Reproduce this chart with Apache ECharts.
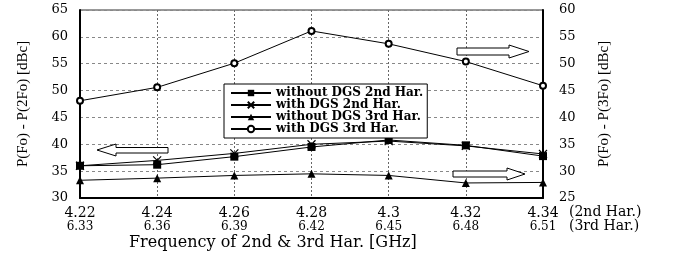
<!DOCTYPE html>
<html>
<head>
<meta charset="utf-8">
<script src="https://cdn.jsdelivr.net/npm/echarts@6/dist/echarts.min.js"></script>
<style>
  html, body { margin: 0; padding: 0; background: #fff; }
  #main { width: 678px; height: 253px; }
</style>
</head>
<body>
<div id="main"></div>
<script>
  // frequencies of the 2nd and 3rd harmonic, GHz
  var freq2nd = ['4.22', '4.24', '4.26', '4.28', '4.3', '4.32', '4.34'];
  var freq3rd = ['6.33', '6.36', '6.39', '6.42', '6.45', '6.48', '6.51'];

  // P(Fo) - P(2Fo), left axis
  var without2nd = [36.0, 36.2, 37.7, 39.5, 40.8, 39.8, 37.8];
  var with2nd = [36.0, 37.0, 38.3, 40.0, 40.6, 39.7, 38.2];
  // P(Fo) - P(3Fo), right axis
  var without3rd = [28.3, 28.7, 29.2, 29.5, 29.2, 27.8, 27.9];
  var with3rd = [43.1, 45.6, 50.1, 56.1, 53.7, 50.4, 45.9];

  var serif = 'DejaVu Serif';
  var crossPath = 'path://M0,0L10,10M10,0L0,10';

  function arrow(points) {
    return {
      type: 'polygon',
      shape: { points: points },
      style: { fill: '#fff', stroke: '#000', lineWidth: 1 },
      z: 10
    };
  }

  var chart = echarts.init(document.getElementById('main'));
  chart.setOption({
    animation: false,
    backgroundColor: '#fff',
    grid: {
      left: 80, right: 135, top: 10, bottom: 55,
      show: true, borderColor: '#333', borderWidth: 1
    },
    title: {
      text: 'Frequency of 2nd & 3rd Har. [GHz]',
      left: 124, top: 230,
      textStyle: { fontFamily: serif, fontSize: 16, fontWeight: 'normal', color: '#000' }
    },
    legend: {
      orient: 'vertical',
      left: 224, top: 84,
      padding: [3, 4, 3, 6],
      itemGap: 0,
      itemWidth: 40,
      itemHeight: 8,
      backgroundColor: '#fff',
      borderColor: '#000',
      borderWidth: 1,
      textStyle: { fontFamily: serif, fontSize: 12, fontWeight: 'bold', color: '#000', lineHeight: 12 },
      data: ['without DGS 2nd Har.', 'with DGS 2nd Har.', 'without DGS 3rd Har.', 'with DGS 3rd Har.']
    },
    xAxis: {
      type: 'category',
      boundaryGap: false,
      data: freq2nd,
      axisLine: { lineStyle: { color: '#000', width: 2 } },
      axisTick: { show: false },
      axisLabel: {
        margin: 8,
        formatter: function (v, i) { return '{a|' + v + '}\n{b|' + freq3rd[i] + '}'; },
        rich: {
          a: { fontFamily: serif, fontSize: 14, color: '#000', lineHeight: 14 },
          b: { fontFamily: serif, fontSize: 12, color: '#000', lineHeight: 14 }
        }
      },
      splitLine: { show: true, lineStyle: { color: '#666', type: [2, 2], width: 1 } }
    },
    yAxis: [
      {
        type: 'value',
        min: 30, max: 65, interval: 5,
        name: 'P(Fo) - P(2Fo) [dBc]',
        nameLocation: 'middle',
        nameGap: 49,
        nameTextStyle: { fontFamily: 'Liberation Serif', fontSize: 15, color: '#000' },
        axisLine: { show: true, lineStyle: { color: '#000', width: 2 } },
        axisTick: { show: false },
        axisLabel: { margin: 12, fontFamily: serif, fontSize: 13, color: '#000' },
        splitLine: { show: true, lineStyle: { color: '#888', type: [3, 3], width: 1 } }
      },
      {
        type: 'value',
        min: 25, max: 60, interval: 5,
        name: 'P(Fo) - P(3Fo) [dBc]',
        nameLocation: 'middle',
        nameGap: 54,
        nameRotate: 90,
        nameTextStyle: { fontFamily: 'Liberation Serif', fontSize: 15, color: '#000' },
        axisLine: { show: true, lineStyle: { color: '#000', width: 2 } },
        axisTick: { show: false },
        axisLabel: { margin: 16, fontFamily: serif, fontSize: 13, color: '#000' },
        splitLine: { show: false }
      }
    ],
    graphic: [
      {
        type: 'text', left: 569, top: 205,
        style: {
          text: '(2nd Har.)\n(3rd Har.)',
          font: '14px "DejaVu Serif"',
          fill: '#000',
          lineHeight: 14
        }
      },
      arrow([[97, 150], [116, 144], [116, 147.5], [168, 147.5], [168, 153], [116, 153], [116, 156]]),
      arrow([[457, 48], [509, 48], [509, 45], [529, 51.5], [509, 58], [509, 55], [457, 55]]),
      arrow([[453, 171], [507, 171], [507, 168], [525, 174], [507, 180], [507, 177], [453, 177]])
    ],
    series: [
      {
        name: 'without DGS 2nd Har.',
        type: 'line',
        yAxisIndex: 0,
        data: without2nd,
        symbol: 'rect', symbolSize: 8,
        lineStyle: { color: '#000', width: 1 },
        itemStyle: { color: '#000' }
      },
      {
        name: 'with DGS 2nd Har.',
        type: 'line',
        yAxisIndex: 0,
        data: with2nd,
        symbol: crossPath, symbolSize: 8,
        lineStyle: { color: '#000', width: 1 },
        itemStyle: { color: 'transparent', borderColor: '#000', borderWidth: 1.2 }
      },
      {
        name: 'without DGS 3rd Har.',
        type: 'line',
        yAxisIndex: 1,
        data: without3rd,
        symbol: 'triangle', symbolSize: 8,
        lineStyle: { color: '#000', width: 1 },
        itemStyle: { color: '#000' }
      },
      {
        name: 'with DGS 3rd Har.',
        type: 'line',
        yAxisIndex: 1,
        data: with3rd,
        symbol: 'emptyCircle', symbolSize: 6,
        lineStyle: { color: '#000', width: 1 },
        itemStyle: { color: '#000', borderColor: '#000', borderWidth: 1.2 }
      }
    ]
  });
</script>
</body>
</html>
